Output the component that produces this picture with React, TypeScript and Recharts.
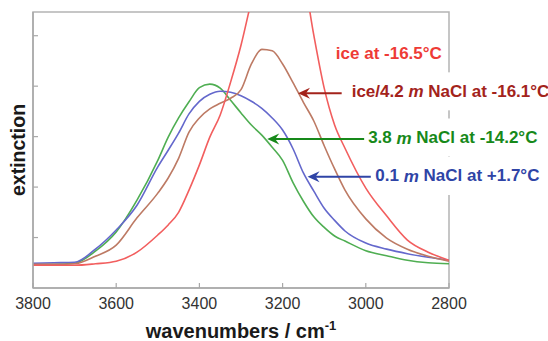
import React from 'react';
import { LineChart, Line, XAxis, YAxis, ReferenceArea, ReferenceLine, Label } from 'recharts';

// wavenumbers (cm-1)
const wavenumbers = [3800, 3750, 3700, 3650, 3600, 3550, 3500, 3475, 3450, 3425, 3400, 3375, 3350, 3325, 3300, 3275, 3250, 3225, 3200, 3175, 3150, 3125, 3100, 3075, 3050, 3000, 2950, 2900, 2850, 2800];
// ice at -16.5°C
const iceData = [0.45, 0.45, 0.45, 0.48, 0.53, 0.71, 1.05, 1.25, 1.5, 1.94, 2.44, 2.99, 3.43, 4.08, 4.81, 5.7, 6.6, 7.1, 7.1, 6.8, 6.2, 5.01, 3.96, 3.23, 2.77, 1.98, 1.43, 0.95, 0.71, 0.55];
// ice/4.2 m NaCl at -16.1°C
const iceNaClData = [0.47, 0.47, 0.48, 0.63, 0.85, 1.39, 1.88, 2.18, 2.57, 3.09, 3.37, 3.55, 3.66, 3.76, 3.93, 4.44, 4.73, 4.7, 4.44, 4.07, 3.68, 3.31, 2.82, 2.36, 1.94, 1.37, 0.99, 0.77, 0.63, 0.53];
// 3.8 m NaCl at -14.2°C
const nacl38Data = [0.47, 0.47, 0.49, 0.73, 1.11, 1.74, 2.53, 2.99, 3.37, 3.69, 3.97, 4.04, 3.96, 3.72, 3.47, 3.23, 3.03, 2.79, 2.53, 2.09, 1.72, 1.41, 1.2, 1.03, 0.93, 0.74, 0.64, 0.55, 0.5, 0.48];
// 0.1 m NaCl at +1.7°C
const nacl01Data = [0.49, 0.5, 0.51, 0.77, 1.15, 1.64, 2.4, 2.73, 3.07, 3.45, 3.7, 3.84, 3.9, 3.88, 3.81, 3.7, 3.56, 3.37, 3.13, 2.76, 2.28, 1.92, 1.58, 1.34, 1.13, 0.89, 0.77, 0.68, 0.61, 0.55];

const xTicks = [3800, 3600, 3400, 3200, 3000, 2800];
const yTicks = [1, 2, 3, 4, 5];
const xDomain = [2800, 3800];
const yDomain = [0, 5.47];

const rows = wavenumbers.map((w, i) => ({
  w,
  ice: iceData[i],
  iceNaCl: iceNaClData[i],
  nacl38: nacl38Data[i],
  nacl01: nacl01Data[i],
}));

type Annot = {
  pre: string; it: string; post: string; color: string;
  tipW: number; tailW: number; y: number; gap: number; dy: number;
  arrow: boolean; bg: boolean;
};

const annotations: Annot[] = [
  { pre: 'ice at -16.5°C', it: '', post: '', color: '#ee3b36', tipW: 3072, tailW: 3072, y: 4.657, gap: 0, dy: 0, arrow: false, bg: false },
  { pre: 'ice/4.2 ', it: 'm', post: ' NaCl at -16.1°C', color: '#a3231b', tipW: 3163, tailW: 3058, y: 3.858, gap: 10, dy: -2, arrow: true, bg: true },
  { pre: '3.8 ', it: 'm', post: ' NaCl at -14.2°C', color: '#17891a', tipW: 3237, tailW: 3004, y: 2.953, gap: 4, dy: -1.5, arrow: true, bg: true },
  { pre: '0.1 ', it: 'm', post: ' NaCl at +1.7°C', color: '#2f44a6', tipW: 3140, tailW: 2988, y: 2.206, gap: 4.5, dy: -0.7, arrow: true, bg: true },
];

const FONT = '"Liberation Sans", Arial, sans-serif';

const makeShape = (a: Annot) => (p: any) => {
  const { x1, y1, x2 } = p;
  const textX = x2 + a.gap;
  const ty = y1 + a.dy;
  return (
    <g>
      {a.bg && <rect x={textX - 4} y={ty - 19} width={560 - textX} height={38} fill="#ffffff" />}
      {a.arrow && (
        <g>
          <line x1={x1 + 7} y1={y1} x2={x2} y2={y1} stroke={a.color} strokeWidth={2} />
          <polygon
            points={`${x1},${y1} ${x1 + 12},${y1 - 5.5} ${x1 + 8},${y1} ${x1 + 12},${y1 + 5.5}`}
            fill={a.color}
          />
        </g>
      )}
      <text x={textX} y={ty} fill={a.color} fontSize={17} fontWeight="bold" fontFamily={FONT} dominantBaseline="central">
        {a.pre}
        {a.it && <tspan fontStyle="italic">{a.it}</tspan>}
        {a.post}
      </text>
    </g>
  );
};

const XTitle = (props: any) => {
  const vb = props.viewBox;
  return (
    <text x={vb.x + vb.width / 2} y={vb.y + 50} textAnchor="middle" fontFamily={FONT} fontWeight="bold" fontSize={20} fill="#1a1a1a">
      wavenumbers / cm
      <tspan fontSize={13} dy={-8}>-1</tspan>
    </text>
  );
};

const YTitle = (props: any) => {
  const vb = props.viewBox || {};
  const cx = (vb.x ?? 32) + (vb.width ?? 1) - 15;
  const cy = (vb.y ?? 12) + (vb.height ?? 276) / 2;
  return (
    <text x={cx} y={cy} textAnchor="middle" dominantBaseline="central" transform={`rotate(-90 ${cx} ${cy})`} fontFamily={FONT} fontWeight="bold" fontSize={19.5} fill="#1a1a1a">
      extinction
    </text>
  );
};

const EmptyTick = () => <g />;

export default function App() {
  return (
    <div style={{ position: 'absolute', left: 0, top: 0, width: 548, height: 341, background: '#fff' }}>
      <LineChart width={548} height={341} data={rows} margin={{ top: 12, right: 99, bottom: 0, left: 32 }}>
        <ReferenceArea x1={3800} x2={2800} y1={0} y2={5.47} fill="none" stroke="#b4b4b4" strokeWidth={1.5} ifOverflow="visible" />
        <XAxis
          dataKey="w"
          type="number"
          domain={xDomain}
          reversed
          ticks={xTicks}
          height={53}
          tickSize={-5}
          tickMargin={15}
          axisLine={{ stroke: '#a8a8a8', strokeWidth: 1.5 }}
          tickLine={{ stroke: '#a8a8a8', strokeWidth: 1.2 }}
          tick={{ fill: '#333', fontSize: 16, fontFamily: FONT }}
          allowDataOverflow
        >
          <Label content={XTitle} />
        </XAxis>
        <YAxis
          type="number"
          domain={yDomain}
          ticks={yTicks}
          width={1}
          tick={<EmptyTick />}
          tickSize={-5}
          axisLine={{ stroke: '#a8a8a8', strokeWidth: 1.5 }}
          tickLine={{ stroke: '#a8a8a8', strokeWidth: 1.2 }}
          allowDataOverflow
          label={<YTitle />}
        />
        <Line dataKey="nacl38" type="monotone" stroke="#4fae52" strokeWidth={1.6} dot={false} isAnimationActive={false} />
        <Line dataKey="nacl01" type="monotone" stroke="#6468cc" strokeWidth={1.6} dot={false} isAnimationActive={false} />
        <Line dataKey="iceNaCl" type="monotone" stroke="#bd7a64" strokeWidth={1.6} dot={false} isAnimationActive={false} />
        <Line dataKey="ice" type="monotone" stroke="#f25e5e" strokeWidth={1.6} dot={false} isAnimationActive={false} />
        {annotations.map((a, i) => (
          <ReferenceLine
            key={i}
            segment={[{ x: a.tipW, y: a.y }, { x: a.tailW, y: a.y }]}
            ifOverflow="visible"
            shape={makeShape(a)}
            zIndex={2000}
          />
        ))}
      </LineChart>
    </div>
  );
}
